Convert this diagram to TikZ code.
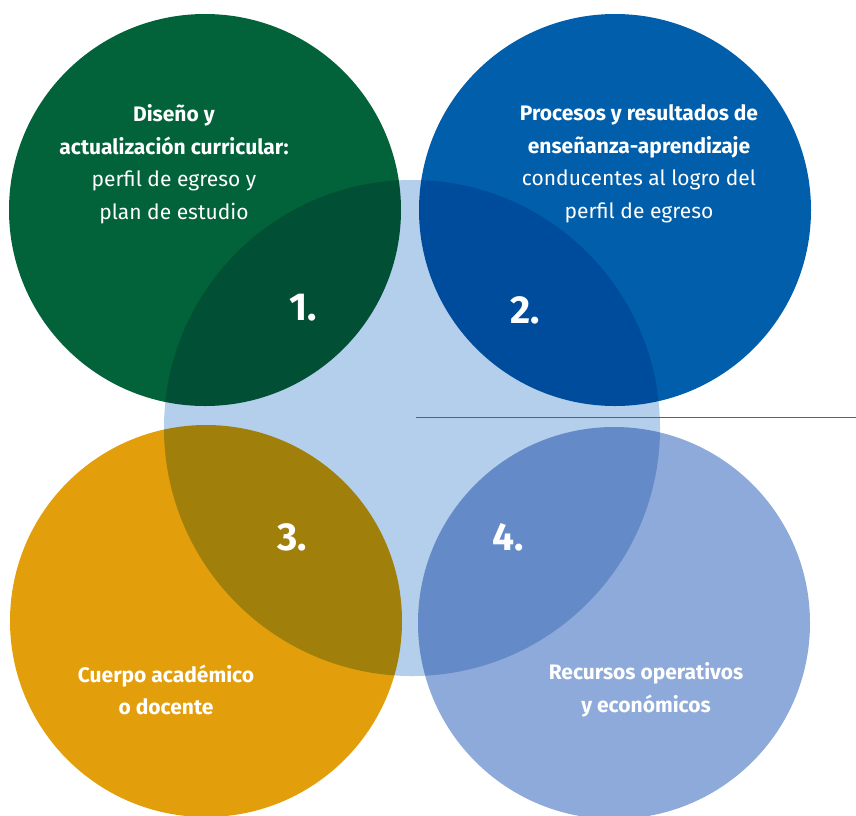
\documentclass[tikz,border=0pt]{standalone}
\usepackage{fontspec}
\setmainfont{Fira Sans}
\usetikzlibrary{positioning}
\definecolor{verde}{HTML}{02623A}
\definecolor{azul}{HTML}{005EAA}
\definecolor{celeste}{HTML}{B4CFEB}
\definecolor{ocre}{HTML}{E39E0B}
\definecolor{lavanda}{HTML}{8EAADA}
\definecolor{linea}{HTML}{3B64B4}
\begin{document}
\begin{tikzpicture}[x=1pt,y=-1pt,
  txt/.style={text=white,align=center,inner sep=0pt,font=\fontsize{21}{32.5}\selectfont},
  num/.style={text=white,inner sep=0pt,font=\fontsize{39}{39}\selectfont\bfseries}]
\useasboundingbox (0,0) rectangle (856,815);
\fill [verde] (205,210) circle [radius=196pt];
\fill [azul] (615,210) circle [radius=196pt];
\fill [ocre] (206,621) circle [radius=196pt];
\fill [lavanda] (614,623) circle [radius=196pt];
\begin{scope}[blend mode=multiply]
\fill [celeste] (412,428) circle [radius=248pt];
\end{scope}
\coordinate (l1) at (416,417);
\coordinate (l2) at (856,417);
\draw [linea,line width=1pt] (l1) -- (l2);
\node [txt] (t1) at (174,164) {\textbf{Diseño y}\\\textbf{actualización curricular:}\\perfil de egreso y\\plan de estudio};
\node [txt] (t2) at (639,164) {\textbf{Procesos y resultados de}\\\textbf{enseñanza-aprendizaje}\\conducentes al logro del\\perfil de egreso};
\node [txt,font=\fontsize{21}{32.5}\selectfont\bfseries] (t3) at (166,690) {Cuerpo académico\\o docente};
\node [txt,font=\fontsize{21}{32.5}\selectfont\bfseries] (t4) at (646,690) {Recursos operativos\\y económicos};
\node [num] (n1) at (303,308) {1.};
\node [num] (n2) at (525,310) {2.};
\node [num] (n3) at (292,537) {3.};
\node [num] (n4) at (508,537) {4.};
\end{tikzpicture}
\end{document}
